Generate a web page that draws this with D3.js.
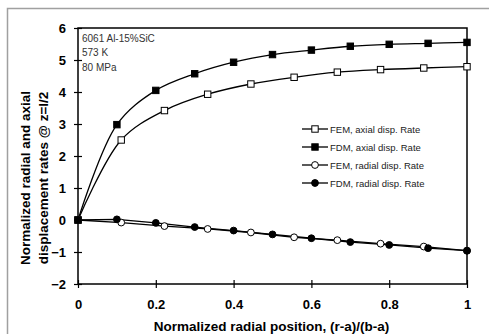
<!DOCTYPE html>
<html>
<head>
<meta charset="utf-8">
<script src="https://cdn.jsdelivr.net/npm/d3@7"></script>
<style>
  body { margin: 0; background: #fff; }
  svg { display: block; font-family: 'Liberation Sans', Arial, sans-serif; }
</style>
</head>
<body>
<div id="chart"></div>
<script>
// FEM nodes at 1/9 steps, FDM at 0.1 steps
const femX = [0, 1/9, 2/9, 3/9, 4/9, 5/9, 6/9, 7/9, 8/9, 1];
const fdmX = [0, 0.1, 0.2, 0.3, 0.4, 0.5, 0.6, 0.7, 0.8, 0.9, 1];
const femAxial = [0, 2.5, 3.42, 3.93, 4.25, 4.46, 4.62, 4.7, 4.75, 4.79];
const fdmAxial = [0, 2.98, 4.05, 4.57, 4.93, 5.17, 5.31, 5.43, 5.49, 5.52, 5.55];
const femRadial = [0, -0.08, -0.19, -0.28, -0.39, -0.54, -0.63, -0.74, -0.83, -0.96];
const fdmRadial = [0, 0.02, -0.09, -0.22, -0.33, -0.45, -0.57, -0.69, -0.78, -0.88, -0.96];
const xTicks = [0, 0.2, 0.4, 0.6, 0.8, 1];
const yTicks = [-2, -1, 0, 1, 2, 3, 4, 5, 6];
const notes = ['6061 Al-15%SiC', '573 K', '80 MPa'];

const series = [
  { label: 'FEM, axial disp. Rate', xs: femX, ys: femAxial, shape: 'square', fill: '#fff', smooth: true },
  { label: 'FDM, axial disp. Rate', xs: fdmX, ys: fdmAxial, shape: 'square', fill: '#000', smooth: true },
  { label: 'FEM, radial disp. Rate', xs: femX, ys: femRadial, shape: 'circle', fill: '#fff', smooth: false },
  { label: 'FDM, radial disp. Rate', xs: fdmX, ys: fdmRadial, shape: 'circle', fill: '#000', smooth: false }
];

const W = 489, H = 334;
const margin = { top: 28, right: 22, bottom: 50, left: 78 };
const width = W - margin.left - margin.right;
const height = H - margin.top - margin.bottom;
const FONT = "'Liberation Sans', Arial, sans-serif";

const root = d3.select('#chart').append('svg').attr('width', W).attr('height', H);

// outer chart-area frame (grey, only left/top visible)
root.append('rect').attr('x', 7.5).attr('y', 8.5).attr('width', W + 20).attr('height', H + 20)
  .attr('fill', 'none').attr('stroke', '#a0a0a0').attr('stroke-width', 1.5);

const svg = root.append('g').attr('transform', `translate(${margin.left},${margin.top})`);

const x = d3.scaleLinear().domain([0, 1]).range([0, width]);
const y = d3.scaleLinear().domain([-2, 6]).range([height, 0]);

svg.append('rect').attr('width', width).attr('height', height)
  .attr('fill', 'none').attr('stroke', '#000').attr('stroke-width', 1.5);

svg.append('g').attr('transform', `translate(0,${height})`)
  .call(d3.axisBottom(x).tickValues(xTicks).tickSize(4).tickPadding(12).tickFormat(d3.format('')))
  .call(g => g.select('.domain').remove())
  .call(g => g.selectAll('.tick line').attr('stroke', '#000').attr('y1', -4).attr('stroke-width', 1.2))
  .call(g => g.selectAll('.tick text').attr('fill', '#000').attr('font-size', '13px').attr('font-weight', 'bold')
    .attr('font-family', FONT));

svg.append('g')
  .call(d3.axisLeft(y).tickValues(yTicks).tickSize(4).tickFormat(d3.format('')))
  .call(g => g.select('.domain').remove())
  .call(g => g.selectAll('.tick line').attr('stroke', '#000').attr('x2', 4).attr('x1', -4).attr('stroke-width', 1.2))
  .call(g => g.selectAll('.tick text').attr('fill', '#000').attr('font-size', '13px').attr('font-weight', 'bold')
    .attr('x', -12).attr('font-family', FONT));

svg.append('text').attr('x', width / 2 - 1).attr('y', height + 46.5).attr('text-anchor', 'middle')
  .attr('font-size', '13.5px').attr('font-weight', 'bold').text('Normalized radial position, (r-a)/(b-a)');

const yTitle = svg.append('text').attr('transform', `translate(-48.5,${height / 2 + 22}) rotate(-90)`)
  .attr('text-anchor', 'middle').attr('font-size', '13.5px').attr('font-weight', 'bold');
yTitle.append('tspan').attr('x', 0).attr('dy', 0).text('Normalized radial and axial');
yTitle.append('tspan').attr('x', 0).attr('dy', 18).text('displacement rates @ z=l/2');

notes.forEach((t, i) => {
  svg.append('text').attr('x', 4).attr('y', 13.5 + i * 14.5).attr('font-size', '10px')
    .attr('fill', '#333').text(t);
});

function marker(g, s, cx, cy) {
  if (s.shape === 'square') {
    g.append('rect').attr('x', cx - 3.2).attr('y', cy - 3.2).attr('width', 6.4).attr('height', 6.4)
      .attr('fill', s.fill).attr('stroke', '#000').attr('stroke-width', 1);
  } else {
    g.append('circle').attr('cx', cx).attr('cy', cy).attr('r', 3.4)
      .attr('fill', s.fill).attr('stroke', '#000').attr('stroke-width', 1);
  }
}

series.forEach(s => {
  const pts = s.xs.map((v, i) => [x(v), y(s.ys[i])]);
  const line = d3.line().curve(s.smooth ? d3.curveCatmullRom.alpha(0.5) : d3.curveLinear);
  svg.append('path').attr('d', line(pts)).attr('fill', 'none').attr('stroke', '#000').attr('stroke-width', 1.3);
});
series.forEach(s => {
  const g = svg.append('g');
  s.xs.forEach((v, i) => marker(g, s, x(v), y(s.ys[i])));
});

// legend
const lg = svg.append('g').attr('transform', `translate(${302 - margin.left},${129 - margin.top})`);
series.forEach((s, i) => {
  const row = lg.append('g').attr('transform', `translate(0,${i * 18})`);
  row.append('line').attr('x1', 0).attr('x2', 26).attr('stroke', '#000').attr('stroke-width', 1.3);
  marker(row, s, 13, 0);
  row.append('text').attr('x', 28).attr('y', 3.5).attr('font-size', '9.5px').attr('fill', '#222').text(s.label);
});
</script>
</body>
</html>
